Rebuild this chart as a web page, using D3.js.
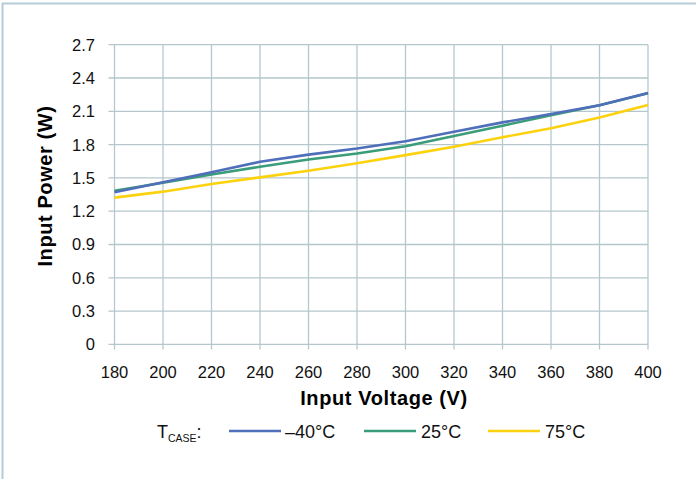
<!DOCTYPE html>
<html>
<head>
<meta charset="utf-8">
<script src="https://d3js.org/d3.v7.min.js"></script>
<style>
  body { margin: 0; background: #fff; }
  svg { display: block; font-family: "Liberation Sans", Arial, sans-serif; }
</style>
</head>
<body>
<script>
// values
var voltage = [180, 200, 220, 240, 260, 280, 300, 320, 340, 360, 380, 400];
var powerMinus40 = [1.37, 1.46, 1.55, 1.645, 1.71, 1.765, 1.83, 1.915, 2.0, 2.075, 2.155, 2.265];
var power25 = [1.385, 1.457, 1.53, 1.60, 1.665, 1.72, 1.785, 1.877, 1.97, 2.065, 2.155, 2.262];
var power75 = [1.322, 1.376, 1.445, 1.505, 1.565, 1.632, 1.705, 1.781, 1.866, 1.947, 2.045, 2.157];
var seriesNames = ["\u201340\u00b0C", "25\u00b0C", "75\u00b0C"];
var seriesColors = ["#4f6fba", "#3a9c78", "#fcd20f"];
var xTicks = [180, 200, 220, 240, 260, 280, 300, 320, 340, 360, 380, 400];
var yTicks = [0, 0.3, 0.6, 0.9, 1.2, 1.5, 1.8, 2.1, 2.4, 2.7];

var W = 696, H = 479;
var plotLeft = 114.5, plotRight = 648, plotTop = 44.7, plotBottom = 344.4;
var gridColor = "#b5c7cd";

var svg = d3.select("body").append("svg")
    .attr("width", W)
    .attr("height", H);

// outer frame (top and left edges only)
svg.append("line").attr("x1", 2).attr("x2", W).attr("y1", 3.5).attr("y2", 3.5)
    .attr("stroke", "#b3ccd8").attr("stroke-width", 2);
svg.append("line").attr("x1", 2.5).attr("x2", 2.5).attr("y1", 3).attr("y2", H)
    .attr("stroke", "#b3ccd8").attr("stroke-width", 2);

var x = d3.scaleLinear().domain([180, 400]).range([plotLeft, plotRight]);
var y = d3.scaleLinear().domain([0, 2.7]).range([plotBottom, plotTop]);

// grid
svg.append("g").selectAll("line")
    .data(yTicks).enter().append("line")
    .attr("x1", plotLeft - 6).attr("x2", plotRight)
    .attr("y1", function(d) { return y(d); })
    .attr("y2", function(d) { return y(d); })
    .attr("stroke", gridColor).attr("stroke-width", 1.3);

svg.append("g").selectAll("line")
    .data(xTicks).enter().append("line")
    .attr("x1", function(d) { return x(d); })
    .attr("x2", function(d) { return x(d); })
    .attr("y1", plotTop).attr("y2", plotBottom + 5)
    .attr("stroke", gridColor).attr("stroke-width", 1.3);

// tick labels
svg.append("g").selectAll("text")
    .data(yTicks).enter().append("text")
    .attr("x", 95)
    .attr("y", function(d) { return y(d); })
    .attr("dy", "0.36em")
    .attr("text-anchor", "end")
    .style("font-size", "16.5px")
    .attr("fill", "#111")
    .text(function(d) { return d === 0 ? "0" : d3.format(".1f")(d); });

svg.append("g").selectAll("text")
    .data(xTicks).enter().append("text")
    .attr("x", function(d) { return x(d); })
    .attr("y", 378)
    .attr("text-anchor", "middle")
    .style("font-size", "16.5px")
    .attr("fill", "#111")
    .text(function(d) { return d; });

// axis titles
svg.append("text")
    .attr("x", 384)
    .attr("y", 405)
    .attr("text-anchor", "middle")
    .style("font-size", "20px")
    .style("letter-spacing", "0.6px")
    .style("font-weight", "bold")
    .text("Input Voltage (V)");

svg.append("text")
    .attr("transform", "translate(52,186) rotate(-90)")
    .attr("text-anchor", "middle")
    .style("font-size", "20px")
    .style("letter-spacing", "0.6px")
    .style("font-weight", "bold")
    .text("Input Power (W)");

// lines
var series = [powerMinus40, power25, power75];
var line = d3.line()
    .x(function(d, i) { return x(voltage[i]); })
    .y(function(d) { return y(d); });

// yellow first, then green, blue on top
[2, 1, 0].forEach(function(k) {
    svg.append("path")
        .datum(series[k])
        .attr("fill", "none")
        .attr("stroke", seriesColors[k])
        .attr("stroke-width", 2.6)
        .attr("stroke-linejoin", "round")
        .attr("d", line);
});

// legend
var legendY = 431;
var lg = svg.append("g");
var tcase = lg.append("text")
    .attr("x", 157).attr("y", legendY + 7)
    .style("font-size", "18px")
    .attr("fill", "#111");
tcase.append("tspan").text("T");
tcase.append("tspan").attr("dy", 4).style("font-size", "10.5px").text("CASE");
tcase.append("tspan").attr("dy", -4).text(":");

var legendLineX = [229, 364, 488];
var legendTextX = [285, 421, 545];
seriesNames.forEach(function(name, k) {
    lg.append("line")
        .attr("x1", legendLineX[k]).attr("x2", legendLineX[k] + 52)
        .attr("y1", legendY).attr("y2", legendY)
        .attr("stroke", seriesColors[k]).attr("stroke-width", 2.6);
    lg.append("text")
        .attr("x", legendTextX[k]).attr("y", legendY + 7)
        .style("font-size", "18px")
        .attr("fill", "#111")
        .text(name);
});
</script>
</body>
</html>
